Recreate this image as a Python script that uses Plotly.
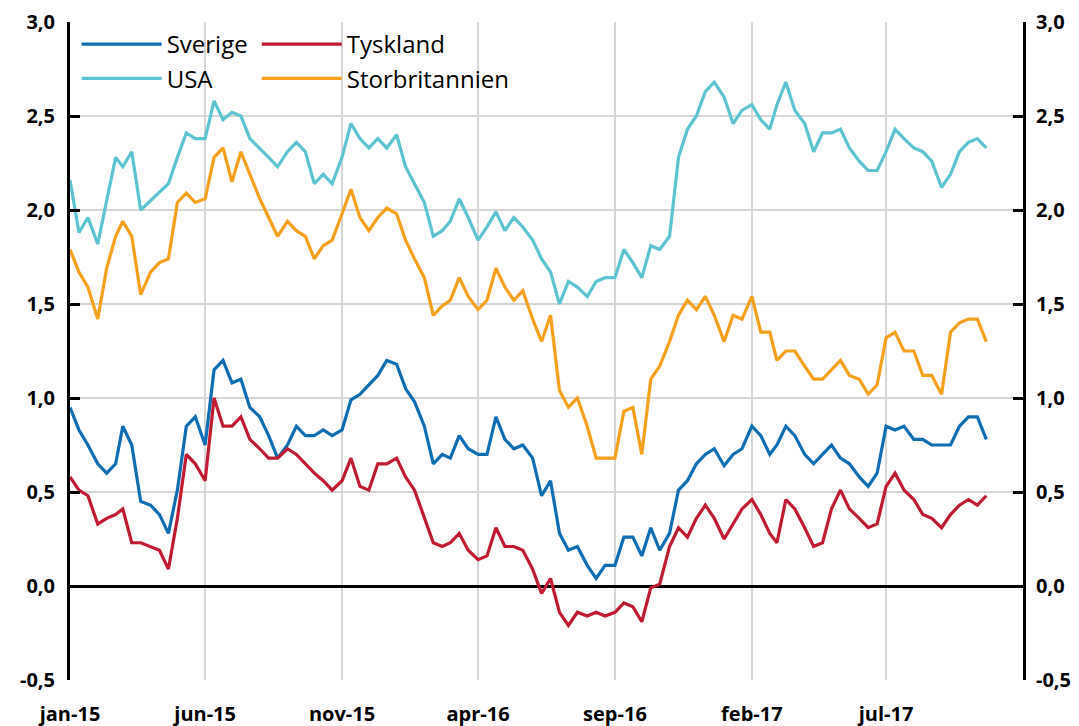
import plotly.graph_objects as go

# ---- data (10-year government bond yields, %), sampled on the 1st, 11th and 21st of each month ----
N_POINTS = 102
dates = []
yy, mm = 2015, 1
while len(dates) < N_POINTS:
    for d in (1, 11, 21):
        dates.append(f"{yy}-{mm:02d}-{d:02d}")
    mm += 1
    if mm > 12:
        mm, yy = 1, yy + 1
dates = dates[:N_POINTS]

sverige = [0.95, 0.83, 0.75, 0.65, 0.60, 0.65, 0.85, 0.75, 0.45, 0.43, 0.38, 0.28, 0.51, 0.85, 0.90, 0.75, 1.15, 1.20, 1.08,
           1.10, 0.95, 0.90, 0.80, 0.68, 0.75, 0.85, 0.80, 0.80, 0.83, 0.80, 0.83, 0.99, 1.02, 1.07, 1.12, 1.20, 1.18,
           1.05, 0.98, 0.85, 0.65, 0.70, 0.68, 0.80, 0.73, 0.70, 0.70, 0.90, 0.78, 0.73, 0.75, 0.68, 0.48, 0.56, 0.28,
           0.19, 0.21, 0.11, 0.04, 0.11, 0.11, 0.26, 0.26, 0.16, 0.31, 0.19, 0.28, 0.51, 0.56, 0.65, 0.70, 0.73, 0.64,
           0.70, 0.73, 0.85, 0.80, 0.70, 0.75, 0.85, 0.80, 0.70, 0.65, 0.70, 0.75, 0.68, 0.65, 0.58, 0.53, 0.60,
           0.85, 0.83, 0.85, 0.78, 0.78, 0.75, 0.75, 0.75, 0.85, 0.90, 0.90, 0.78]

tyskland = [0.58, 0.51, 0.48, 0.33, 0.36, 0.38, 0.41, 0.23, 0.23, 0.21, 0.19, 0.09, 0.36, 0.70, 0.65, 0.56, 1.00, 0.85, 0.85,
            0.90, 0.78, 0.73, 0.68, 0.68, 0.73, 0.70, 0.65, 0.60, 0.56, 0.51, 0.56, 0.68, 0.53, 0.51, 0.65, 0.65, 0.68,
            0.58, 0.51, 0.36, 0.23, 0.21, 0.23, 0.28, 0.19, 0.14, 0.16, 0.31, 0.21, 0.21, 0.19, 0.09, -0.04, 0.04, -0.14,
            -0.21, -0.14, -0.16, -0.14, -0.16, -0.14, -0.09, -0.11, -0.19, -0.01, 0.01, 0.21, 0.31, 0.26, 0.36, 0.43, 0.36, 0.25,
            0.33, 0.41, 0.46, 0.38, 0.28, 0.23, 0.46, 0.41, 0.31, 0.21, 0.23, 0.41, 0.51, 0.41, 0.36, 0.31, 0.33,
            0.53, 0.60, 0.51, 0.46, 0.38, 0.36, 0.31, 0.38, 0.43, 0.46, 0.43, 0.48]

usa = [2.16, 1.88, 1.96, 1.82, 2.05, 2.28, 2.23, 2.31, 2.00, 2.05, 2.09, 2.14, 2.28, 2.41, 2.38, 2.38, 2.58, 2.48, 2.52,
       2.50, 2.38, 2.33, 2.28, 2.23, 2.31, 2.36, 2.31, 2.14, 2.19, 2.14, 2.28, 2.46, 2.38, 2.33, 2.38, 2.33, 2.40,
       2.23, 2.14, 2.04, 1.86, 1.89, 1.94, 2.06, 1.96, 1.84, 1.91, 1.99, 1.89, 1.96, 1.91, 1.84, 1.74, 1.67, 1.50,
       1.62, 1.59, 1.54, 1.62, 1.64, 1.64, 1.79, 1.72, 1.64, 1.81, 1.79, 1.86, 2.28, 2.43, 2.50, 2.63, 2.68, 2.60,
       2.46, 2.53, 2.56, 2.48, 2.43, 2.56, 2.68, 2.53, 2.46, 2.31, 2.41, 2.41, 2.43, 2.33, 2.26, 2.21, 2.21,
       2.31, 2.43, 2.38, 2.33, 2.31, 2.26, 2.12, 2.19, 2.31, 2.36, 2.38, 2.33]

storbritannien = [1.79, 1.67, 1.59, 1.42, 1.69, 1.86, 1.94, 1.86, 1.55, 1.67, 1.72, 1.74, 2.04, 2.09, 2.04, 2.06, 2.28, 2.33, 2.15,
                  2.31, 2.19, 2.06, 1.96, 1.86, 1.94, 1.89, 1.86, 1.74, 1.81, 1.84, 1.98, 2.11, 1.96, 1.89, 1.96, 2.01, 1.98,
                  1.84, 1.74, 1.64, 1.44, 1.49, 1.52, 1.64, 1.54, 1.47, 1.52, 1.69, 1.59, 1.52, 1.57, 1.42, 1.30, 1.44, 1.04,
                  0.95, 1.00, 0.85, 0.68, 0.68, 0.68, 0.93, 0.95, 0.70, 1.10, 1.17, 1.30, 1.44, 1.52, 1.47, 1.54, 1.44, 1.30,
                  1.44, 1.42, 1.54, 1.35, 1.35, 1.20, 1.25, 1.25, 1.17, 1.10, 1.10, 1.15, 1.20, 1.12, 1.10, 1.02, 1.07,
                  1.32, 1.35, 1.25, 1.25, 1.12, 1.12, 1.02, 1.35, 1.40, 1.42, 1.42, 1.30]

x_tick_dates = ["2015-01-01", "2015-06-01", "2015-11-01", "2016-04-01", "2016-09-01", "2017-02-01", "2017-07-01"]
x_tick_labels = ["jan-15", "jun-15", "nov-15", "apr-16", "sep-16", "feb-17", "jul-17"]
y_ticks = [-0.5, 0.0, 0.5, 1.0, 1.5, 2.0, 2.5, 3.0]
y_tick_labels = ["-0,5", "0,0", "0,5", "1,0", "1,5", "2,0", "2,5", "3,0"]

# ---- styling ----
FONT = "Open Sans"
series = [
    ("Sverige", sverige, "#0f6db4", "legend"),
    ("Tyskland", tyskland, "#c01b30", "legend2"),
    ("USA", usa, "#5bc3d2", "legend"),
    ("Storbritannien", storbritannien, "#f7a01c", "legend2"),
]

fig = go.Figure()
for i, (name, vals, color, leg) in enumerate(series):
    fig.add_trace(go.Scatter(
        x=dates, y=vals, mode="lines", name=name,
        line=dict(color=color, width=3.2),
        legend=leg, legendgroup=f"g{i}",
    ))

# invisible copy for the mirrored right axis
fig.add_trace(go.Scatter(x=dates, y=sverige, mode="lines", yaxis="y2",
                         line=dict(width=0), opacity=0, showlegend=False, hoverinfo="skip"))

axis_font = dict(family=FONT, size=20, color="black")
legend_font = dict(family=FONT, size=24, color="black")
grid_col = "#d6d6d6"
bold = lambda labels: [f"<b>{t}</b>" for t in labels]

fig.update_layout(
    width=1079, height=726,
    margin=dict(l=62, r=64, t=14, b=54, autoexpand=False),
    paper_bgcolor="white", plot_bgcolor="white",
    showlegend=True,
    xaxis=dict(
        type="date",
        range=["2015-01-01", "2017-12-01"],
        tickvals=x_tick_dates, ticktext=bold(x_tick_labels),
        tickfont=axis_font, ticklabelstandoff=20,
        showgrid=True, gridcolor=grid_col, gridwidth=1.5,
        showline=False, ticks="", zeroline=False,
    ),
    yaxis=dict(
        range=[-0.5, 3.0], tickvals=y_ticks, ticktext=bold(y_tick_labels),
        tickfont=axis_font, ticklabelstandoff=8,
        showgrid=True, gridcolor=grid_col, gridwidth=1.5,
        zeroline=True, zerolinecolor="black", zerolinewidth=3,
        showline=True, linecolor="black", linewidth=3,
        ticks="inside", ticklen=10, tickwidth=3, tickcolor="black",
    ),
    yaxis2=dict(
        range=[-0.5, 3.0], tickvals=y_ticks, ticktext=bold(y_tick_labels),
        overlaying="y", side="right", anchor="x",
        tickfont=axis_font, ticklabelstandoff=6, showgrid=False, zeroline=False,
        showline=True, linecolor="black", linewidth=3,
        ticks="inside", ticklen=10, tickwidth=3, tickcolor="black",
    ),
    legend=dict(
        x=0.007, y=1.0, xanchor="left", yanchor="top",
        bgcolor="rgba(0,0,0,0)", font=legend_font,
        itemwidth=80, tracegroupgap=0, traceorder="grouped",
    ),
    legend2=dict(
        x=0.196, y=1.0, xanchor="left", yanchor="top",
        bgcolor="rgba(0,0,0,0)", font=legend_font,
        itemwidth=80, tracegroupgap=0, traceorder="grouped",
    ),
)

fig.write_html("out.html")
